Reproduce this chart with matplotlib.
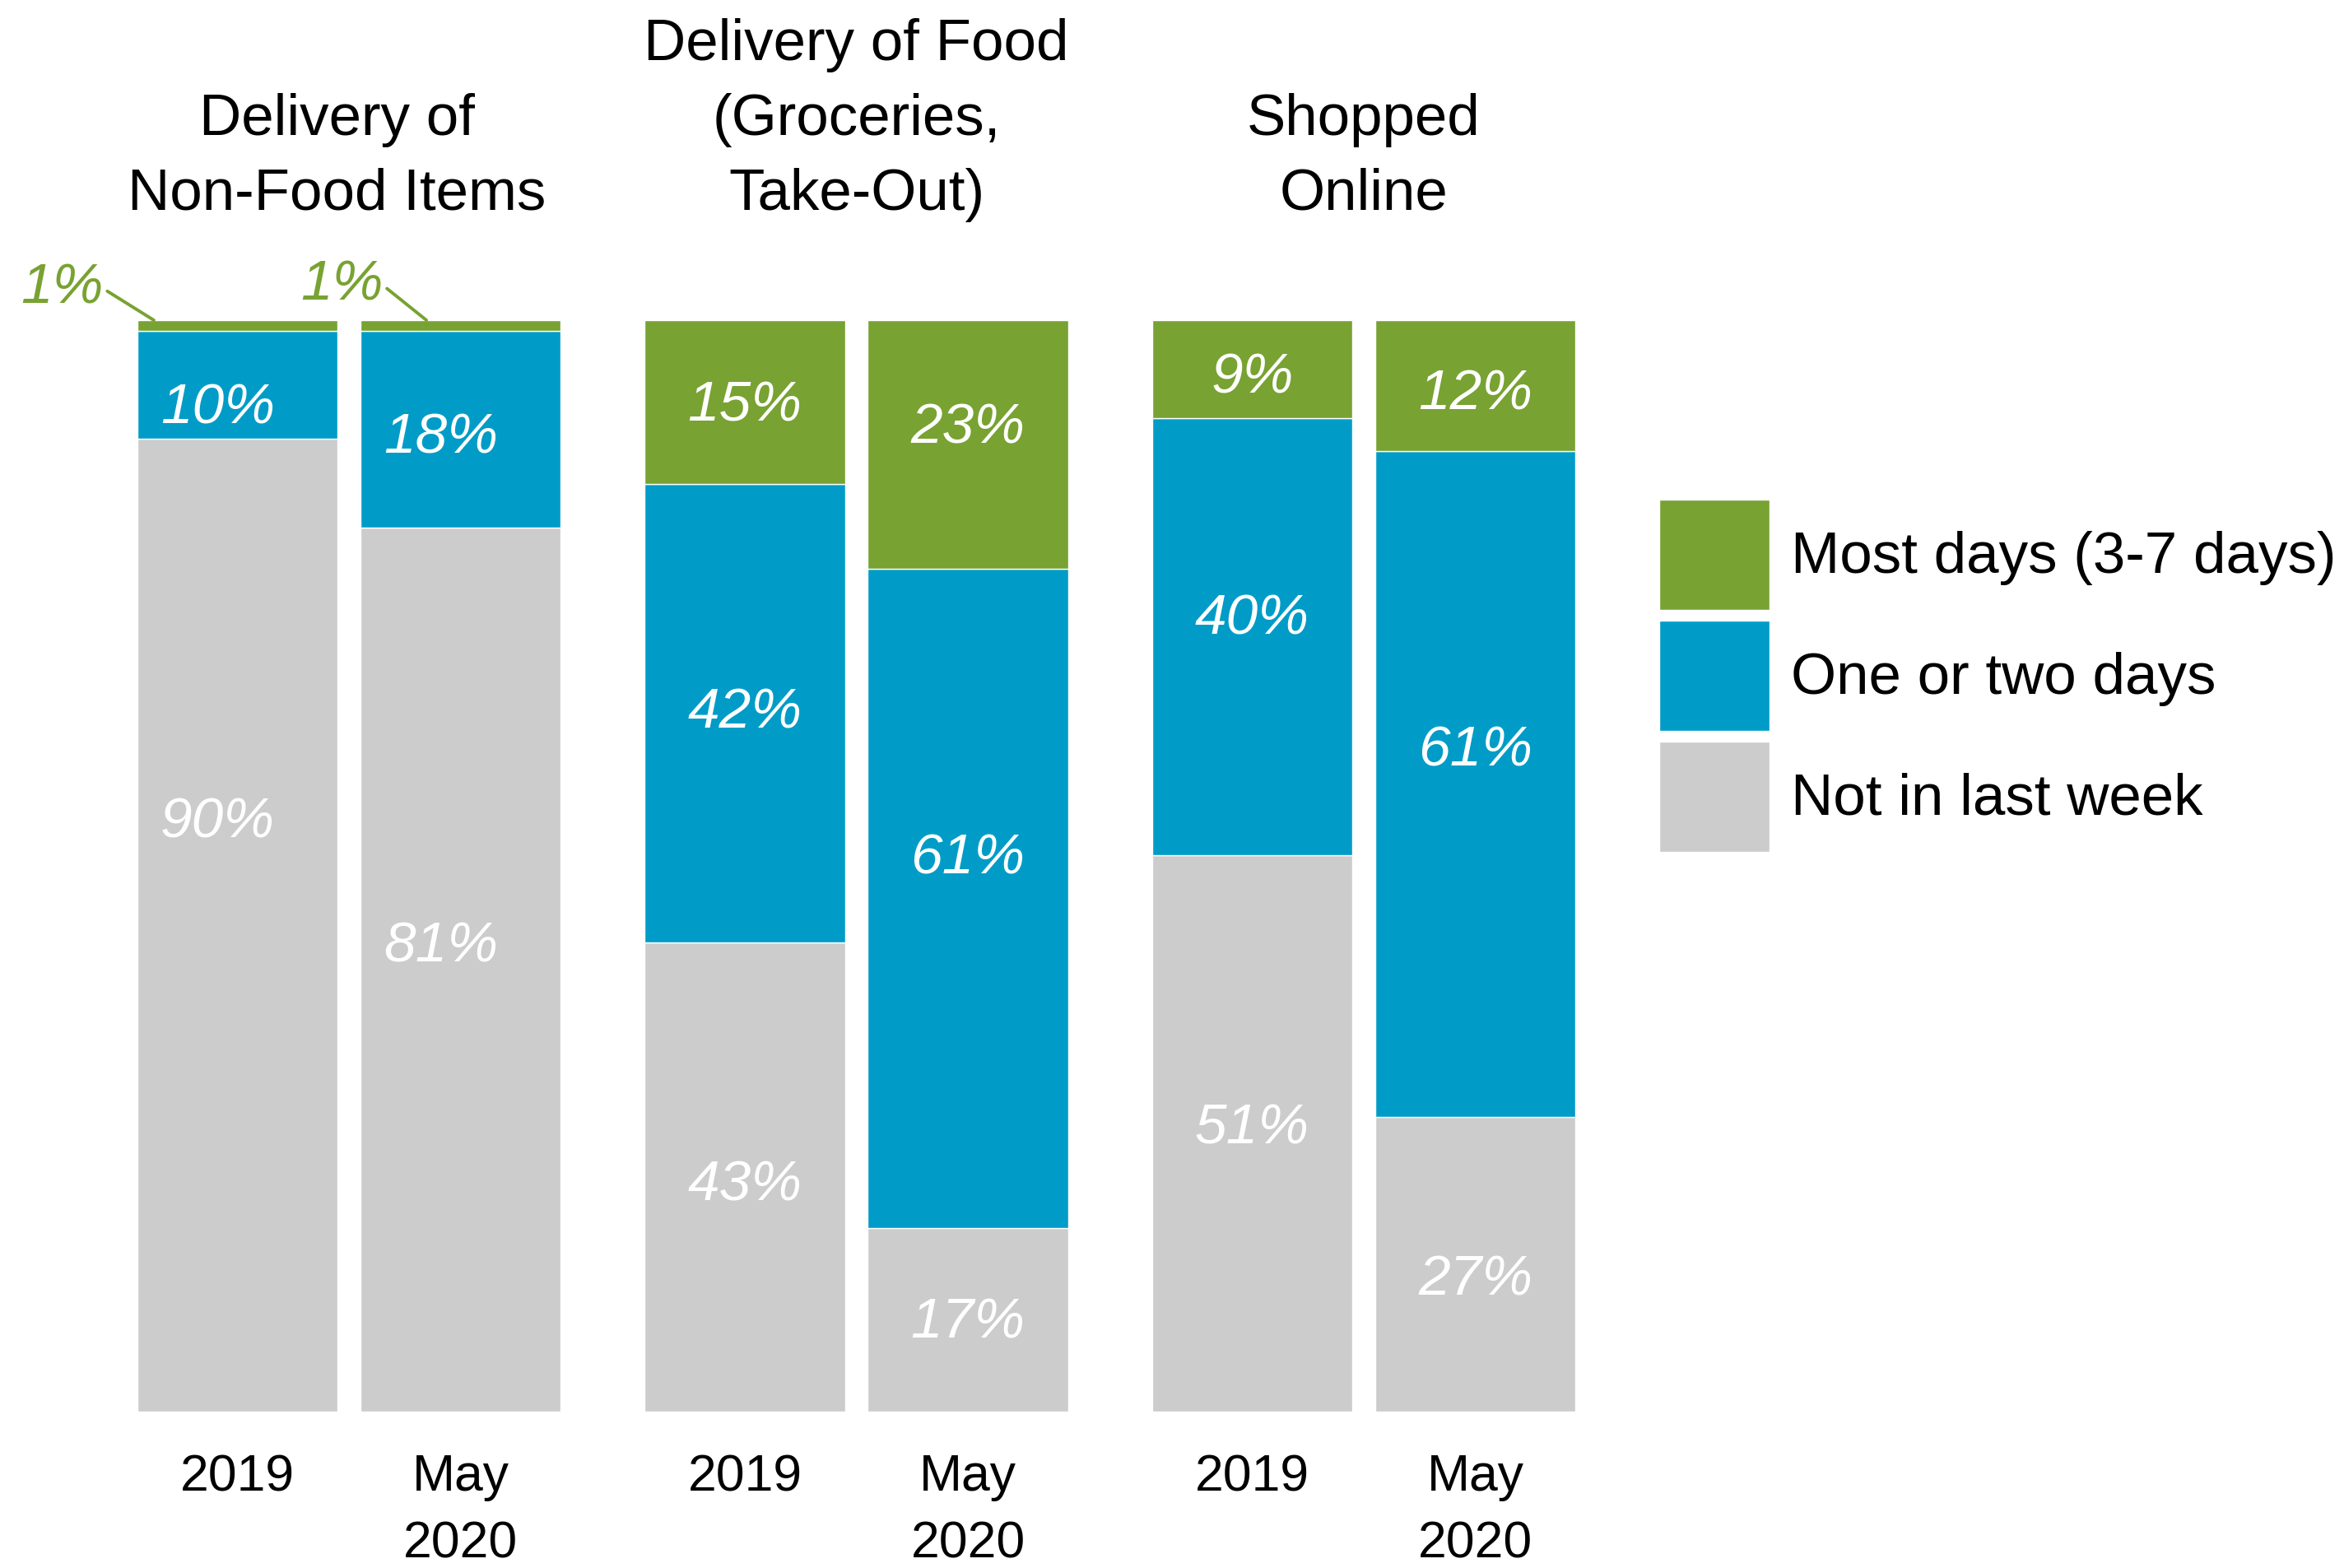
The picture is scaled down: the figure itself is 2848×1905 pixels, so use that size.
import numpy as np
import matplotlib.pyplot as plt

plt.rcParams['font.family'] = ['Liberation Sans', 'DejaVu Sans']

groups = ['Delivery of\nNon-Food Items', 'Delivery of Food\n(Groceries,\nTake-Out)', 'Shopped\nOnline']
periods = ['2019', 'May\n2020']
series = ['Most days (3-7 days)', 'One or two days', 'Not in last week']

# order: non-food 2019, non-food May 2020, food 2019, food May 2020, online 2019, online May 2020
most_days = [1, 1, 15, 23, 9, 12]
one_or_two = [10, 18, 42, 61, 40, 61]
not_last_week = [90, 81, 43, 17, 51, 27]

green = '#78A232'
blue = '#009CC7'
grey = '#CCCCCC'

W, H = 2848, 1905
fig = plt.figure(figsize=(W / 100, H / 100), dpi=100)
ax = fig.add_axes([167 / W, (H - 1715) / H, 1747 / W, 1326 / H])

# bar positions: 3 groups of 2
inner, gstep = 1.115, 2.535
x = np.array([g * gstep + j * inner for g in range(len(groups)) for j in range(len(periods))])

raw = np.array([not_last_week, one_or_two, most_days], dtype=float)
shares = raw / raw.sum(axis=0) * 100

bottom = np.zeros(len(x))
conts = []
for vals, col in zip(shares, [grey, blue, green]):
    c = ax.bar(x, vals, width=1.0, bottom=bottom, color=col, edgecolor='white', linewidth=1)
    conts.append((c, bottom.copy(), vals))
    bottom += vals

# value labels (small nudges to follow the original placement)
nudge_y = [
    [9.4, 2.1, -0.8, -0.3, 0.4, -1.5],
    [-2.2, -0.8, 0.0, 3.6, 1.6, 3.0],
    [0, 0, -0.4, 1.5, -0.8, -0.8],
]
nudge_x = [-0.1, -0.1, 0, 0, 0, 0]
for k, (vals_raw, (c, bot, vals)) in enumerate(zip(raw, conts)):
    for i in range(len(x)):
        if k == 2 and i < 2:
            continue
        ax.text(x[i] + nudge_x[i], bot[i] + vals[i] / 2 + nudge_y[k][i], f'{vals_raw[i]:.0f}%',
                ha='center', va='center', color='white', style='italic', fontsize=50)

# tiny "most days" shares for non-food items, called out above the bars
callouts = [(-0.878, 2.9, -0.418), (-0.595, 3.2, -0.171)]
for i, (tx, ty, ex) in enumerate(callouts):
    ax.annotate(f'{most_days[i]}%', xy=(x[i] + ex, 100), xytext=(x[i] + tx, 100 + ty),
                ha='center', va='center', color=green, style='italic', fontsize=50,
                annotation_clip=False,
                arrowprops=dict(arrowstyle='-', color=green, lw=2.8, relpos=(1, 0.5),
                                shrinkA=2, shrinkB=0))

# group titles
title_dx = [-0.06, 0, 0]
for g, title in enumerate(groups):
    cx = x[2 * g:2 * g + 2].mean() + title_dx[g]
    ax.text(cx, 109, title, ha='center', va='bottom', fontsize=51, linespacing=1.49)

ax.set_xlim(-0.5, x[-1] + 0.5)
ax.set_ylim(0, 100)
ax.set_xticks(x, labels=periods * len(groups))
for lab in ax.get_xticklabels():
    lab.set_linespacing(1.49)
ax.tick_params(axis='x', length=0, pad=36, labelsize=45)
ax.set_yticks([])
for s in ax.spines.values():
    s.set_visible(False)

em = 51 * 100 / 72
fig.legend([conts[2][0], conts[1][0], conts[0][0]], series, loc='upper left',
           bbox_to_anchor=(2016 / W, 1 - 607 / H), frameon=False, fontsize=51,
           handlelength=134 / em, handleheight=2.535, handletextpad=26 / em,
           labelspacing=13 / em, borderpad=0, borderaxespad=0)

fig.savefig('out.png', dpi=100)
